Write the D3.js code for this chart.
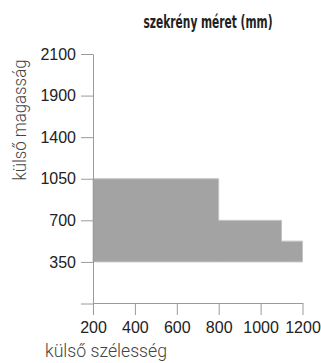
<!DOCTYPE html>
<html>
<head>
<meta charset="utf-8">
<script src="https://cdn.jsdelivr.net/npm/d3@7"></script>
<style>
  body { margin: 0; background: #fff; }
  .axis path, .axis line { stroke: #9a9a9a; }
  .axis text { font-family: "Liberation Sans", Arial, sans-serif; font-size: 16px; fill: #222; }
  .lbl { font-family: Roboto, "DejaVu Sans Condensed", sans-serif; font-weight: 300; font-size: 19px; fill: #444; }
</style>
</head>
<body>
<script>
// cabinet sizes: outer width steps and heights
var widthSteps = [200, 800, 1100, 1200];
var heightSteps = [1050, 700, 525, 525];
var baseHeight = 350;

var yTicks = [0, 350, 700, 1050, 1400, 1900, 2100];
var yLabels = ["", "350", "700", "1050", "1400", "1900", "2100"];
var xTicks = [200, 400, 600, 800, 1000, 1200];

var W = 321, H = 363;
var plotLeft = 93, plotRight = 302.5, plotTop = 54, plotBottom = 303.5;

var svg = d3.select("body").append("svg")
    .attr("width", W)
    .attr("height", H);

var x = d3.scaleLinear().domain([200, 1200]).range([plotLeft, plotRight]);

// y axis uses evenly spaced ticks, not a linear scale
var step = (plotBottom - plotTop) / (yTicks.length - 1);
var y = d3.scaleLinear()
    .domain(yTicks)
    .range(yTicks.map(function(d, i) { return plotBottom - i * step; }));

var data = widthSteps.map(function(w, i) { return { w: w, h: heightSteps[i] }; });

var area = d3.area()
    .curve(d3.curveStepAfter)
    .x(function(d) { return x(d.w); })
    .y0(y(baseHeight))
    .y1(function(d) { return y(d.h); });

svg.append("path")
    .datum(data)
    .attr("d", area)
    .style("fill", "#a3a3a3")
    .style("stroke", "#c4c4c4")
    .style("stroke-width", 1);

svg.append("g")
    .attr("class", "axis")
    .attr("transform", "translate(93,0)")
    .call(d3.axisLeft(y).tickValues(yTicks)
        .tickFormat(function(d, i) { return yLabels[i]; })
        .tickSize(12).tickSizeOuter(0).tickPadding(5));

svg.append("g")
    .attr("class", "axis")
    .attr("transform", "translate(0,303)")
    .call(d3.axisBottom(x).tickValues(xTicks)
        .tickFormat(d3.format("d"))
        .tickSize(12).tickSizeOuter(0).tickPadding(7));

svg.append("text")
    .attr("x", 208)
    .attr("y", 28)
    .attr("text-anchor", "middle")
    .attr("textLength", 129)
    .attr("lengthAdjust", "spacingAndGlyphs")
    .style("font-family", "'DejaVu Sans Condensed', 'DejaVu Sans', sans-serif")
    .style("font-weight", "bold")
    .style("font-size", "18px")
    .style("fill", "#222")
    .text("szekrény méret (mm)");

svg.append("text")
    .attr("class", "lbl")
    .attr("transform", "translate(25.5,120) rotate(-90)")
    .attr("text-anchor", "middle")
    .attr("textLength", 121)
    .attr("lengthAdjust", "spacingAndGlyphs")
    .text("külső magasság");

svg.append("text")
    .attr("class", "lbl")
    .attr("x", 45)
    .attr("y", 357)
    .attr("textLength", 122)
    .attr("lengthAdjust", "spacingAndGlyphs")
    .text("külső szélesség");
</script>
</body>
</html>
